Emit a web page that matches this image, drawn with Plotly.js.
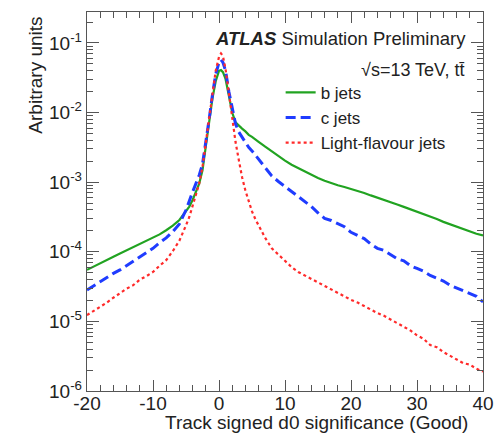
<!DOCTYPE html>
<html>
<head>
<meta charset="utf-8">
<script src="https://cdn.plot.ly/plotly-3.0.1.min.js"></script>
<style>html,body{margin:0;padding:0;background:#fff;}#chart{width:494px;height:433px;}</style>
</head>
<body>
<div id="chart"></div>
<script>
// Track signed d0 significance (bin positions)
var d0 = [-20,-19,-18,-17,-16,-15,-14,-13,-12,-11,-10,-9,-8,-7,-6,-5,-4.5,-4,-3.5,-3,-2.5,-2,-1.5,-1,-0.5,0,0.3,0.6,1,1.5,2,2.5,3,3.5,4,4.5,5,5.5,6,7,8,9,10,11,12,13,14,15,16,17,18,19,20,21,22,23,24,25,26,27,28,29,30,31,32,33,34,35,36,37,38,39,40];

// log10(arbitrary units)
var bJetsLog10 = [-4.26,-4.21,-4.16,-4.115,-4.07,-4.025,-3.98,-3.94,-3.895,-3.85,-3.805,-3.75,-3.69,-3.625,-3.543,-3.424,-3.35,-3.256,-3.14,-3.02,-2.83,-2.47,-2.12,-1.80,-1.55,-1.40,-1.39,-1.42,-1.52,-1.78,-2.00,-2.14,-2.19,-2.23,-2.27,-2.32,-2.35,-2.38,-2.42,-2.49,-2.56,-2.63,-2.69,-2.75,-2.80,-2.85,-2.895,-2.94,-2.98,-3.015,-3.045,-3.07,-3.095,-3.125,-3.155,-3.19,-3.22,-3.25,-3.285,-3.32,-3.355,-3.39,-3.42,-3.45,-3.49,-3.53,-3.57,-3.605,-3.64,-3.675,-3.71,-3.74,-3.765];

var cJetsLog10 = [-4.55,-4.49,-4.43,-4.36,-4.31,-4.26,-4.20,-4.14,-4.08,-4.02,-3.95,-3.87,-3.80,-3.71,-3.60,-3.40,-3.26,-3.14,-3.02,-2.90,-2.74,-2.45,-2.10,-1.75,-1.45,-1.28,-1.24,-1.28,-1.40,-1.70,-1.95,-2.16,-2.28,-2.36,-2.43,-2.50,-2.55,-2.61,-2.68,-2.80,-2.91,-2.99,-3.06,-3.14,-3.21,-3.28,-3.35,-3.44,-3.52,-3.55,-3.60,-3.64,-3.72,-3.76,-3.81,-3.89,-3.95,-3.98,-4.04,-4.10,-4.13,-4.20,-4.24,-4.28,-4.34,-4.38,-4.42,-4.48,-4.52,-4.55,-4.60,-4.64,-4.72];

var lightJetsLog10 = [-4.91,-4.85,-4.80,-4.73,-4.66,-4.59,-4.53,-4.48,-4.40,-4.35,-4.29,-4.20,-4.12,-3.99,-3.84,-3.62,-3.50,-3.34,-3.18,-3.02,-2.78,-2.45,-2.08,-1.72,-1.40,-1.20,-1.15,-1.19,-1.38,-1.72,-2.08,-2.42,-2.68,-2.93,-3.12,-3.28,-3.42,-3.53,-3.62,-3.80,-3.95,-4.04,-4.13,-4.22,-4.29,-4.34,-4.39,-4.44,-4.49,-4.55,-4.60,-4.64,-4.69,-4.73,-4.78,-4.84,-4.88,-4.92,-4.97,-5.03,-5.08,-5.13,-5.20,-5.25,-5.34,-5.37,-5.44,-5.49,-5.55,-5.60,-5.62,-5.68,-5.72];

var seriesNames = ['b jets', 'c jets', 'Light-flavour jets'];

var xTickVals = [-20, -10, 0, 10, 20, 30, 40];
var xTickText = ['-20', '-10', '0', '10', '20', '30', '40'];
var yTickVals = [1e-6, 1e-5, 1e-4, 1e-3, 1e-2, 1e-1];
var yTickText = ['10<sup>-6</sup>', '10<sup>-5</sup>', '10<sup>-4</sup>', '10<sup>-3</sup>', '10<sup>-2</sup>', '10<sup>-1</sup>'];

function toLinear(arr) { return arr.map(function (v) { return Math.pow(10, v); }); }

var FONT = 'Liberation Sans, Arial, Helvetica, sans-serif';

var traces = [
  {x: d0, y: toLinear(bJetsLog10), name: seriesNames[0], type: 'scatter', mode: 'lines',
   line: {color: '#21a321', width: 2.2, dash: 'solid'}},
  {x: d0, y: toLinear(cJetsLog10), name: seriesNames[1], type: 'scatter', mode: 'lines',
   line: {color: '#1f3cff', width: 3, dash: '10px,5px'}},
  {x: d0, y: toLinear(lightJetsLog10), name: seriesNames[2], type: 'scatter', mode: 'lines',
   line: {color: '#ff2a2a', width: 2.2, dash: 'dot'}}
];

var layout = {
  width: 494, height: 433,
  margin: {l: 87, r: 11, t: 12, b: 42, pad: 0},
  paper_bgcolor: '#fff', plot_bgcolor: '#fff',
  font: {family: FONT, size: 19, color: '#222'},
  showlegend: true,
  legend: {x: 0.489, y: 0.834, xanchor: 'left', yanchor: 'top', bgcolor: 'rgba(0,0,0,0)',
           font: {family: FONT, size: 17, color: '#222'}, tracegroupgap: 0, itemwidth: 30},
  xaxis: {
    range: [-20, 40], tickvals: xTickVals, ticktext: xTickText,
    ticks: 'inside', ticklen: 11, tickwidth: 1, tickcolor: '#555',
    showline: true, linecolor: '#555', linewidth: 1.2, mirror: 'ticks',
    showgrid: false, zeroline: false, ticklabelstandoff: -5,
    tickfont: {family: FONT, size: 19, color: '#222'},
    minor: {dtick: 2, ticks: 'inside', ticklen: 6, tickcolor: '#555', showgrid: false}
  },
  yaxis: {
    type: 'log', range: [-6, -0.555], tickvals: yTickVals, ticktext: yTickText,
    ticks: 'inside', ticklen: 12, tickwidth: 1, tickcolor: '#555',
    showline: true, linecolor: '#555', linewidth: 1.2, mirror: 'ticks',
    showgrid: false, zeroline: false,
    tickfont: {family: FONT, size: 19, color: '#222'},
    minor: {dtick: 'D1', ticks: 'inside', ticklen: 6, tickcolor: '#555', showgrid: false}
  },
  annotations: [
    {xref: 'paper', yref: 'paper', x: 0.962, y: 0.931, xanchor: 'right', yanchor: 'middle',
     showarrow: false, text: '<b><i>ATLAS</i></b> Simulation Preliminary',
     font: {family: FONT, size: 18.5, color: '#222'}},
    {xref: 'paper', yref: 'paper', x: 0.96, y: 0.847, xanchor: 'right', yanchor: 'middle',
     showarrow: false, text: '√s=13 TeV, tt\u0304',
     font: {family: FONT, size: 18, color: '#222'}},
    {xref: 'paper', yref: 'paper', x: -0.131, y: 0.992, xanchor: 'center', yanchor: 'top',
     textangle: -90, showarrow: false, text: 'Arbitrary units',
     font: {family: FONT, size: 19, color: '#222'}},
    {xref: 'paper', yref: 'paper', x: 0.967, y: -0.0844, xanchor: 'right', yanchor: 'middle',
     showarrow: false, text: 'Track signed d0 significance (Good)',
     font: {family: FONT, size: 19, color: '#222'}}
  ]
};

Plotly.newPlot('chart', traces, layout, {displayModeBar: false, staticPlot: true});
</script>
</body>
</html>
